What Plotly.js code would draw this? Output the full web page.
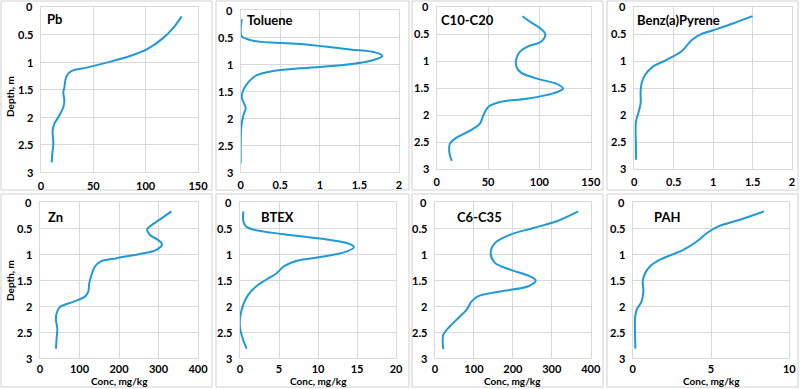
<!DOCTYPE html>
<html>
<head>
<meta charset="utf-8">
<script src="https://cdn.plot.ly/plotly-3.0.1.min.js"></script>
<style>html,body{margin:0;padding:0;background:#fff;}#chart{width:800px;height:389px;}</style>
</head>
<body>
<div id="chart"></div>
<script>
// ---- DATA ----
const pbDepth = [0.17,0.38,0.56,0.77,0.89,1.01,1.10,1.16,1.25,1.46,1.55,1.70,1.82,1.97,2.12,2.24,2.48,2.66,2.82];
const pbConc  = [134.4,126.4,116.9,101,85,62.7,43.6,29.3,24.5,22.3,21.3,22.3,21.3,17.5,12.7,11.1,11.8,10.8,10.2];

const tolDepth = [0.17,0.37,0.49,0.57,0.63,0.73,0.79,0.85,0.93,1.02,1.08,1.13,1.21,1.33,1.48,1.61,1.73,1.82,1.95,2.16,2.47,2.84];
const tolConc  = [0.013,0,0.013,0.16,0.75,1.38,1.71,1.79,1.67,1.29,0.75,0.41,0.2,0.1,0.034,0.013,0.042,0.063,0.034,0.008,0,0];

const c1020Depth = [0.17,0.29,0.41,0.50,0.64,0.73,0.83,0.95,1.11,1.22,1.34,1.42,1.51,1.60,1.70,1.76,1.85,2.01,2.16,2.29,2.42,2.53,2.69,2.85];
const c1020Conc  = [83.5,92.2,101.9,105.8,101.9,89,80.9,77.7,77.7,82.5,100.3,116.5,123,113.3,87.4,61.5,50.2,45.3,42.1,32.4,19.4,12.9,12.3,14.6];

const bapDepth = [0.17,0.30,0.43,0.51,0.61,0.70,0.82,0.98,1.10,1.26,1.41,1.57,1.78,1.97,2.12,2.34,2.59,2.83];
const bapConc  = [1.5,1.26,1.0,0.835,0.73,0.674,0.6,0.41,0.24,0.136,0.093,0.08,0.08,0.05,0.021,0.017,0.021,0.021];

const znDepth = [0.18,0.34,0.47,0.53,0.63,0.73,0.81,0.92,1.00,1.08,1.15,1.24,1.40,1.57,1.73,1.82,1.92,2.02,2.14,2.27,2.43,2.63,2.82];
const znConc  = [332.6,303,278,271,278,299,309,295,253,194,152,139,130.5,124.6,122,113.7,84,50.5,42,40.4,43.8,42,40.4];

const btexDepth = [0.18,0.37,0.47,0.53,0.62,0.72,0.81,0.87,0.95,1.05,1.13,1.24,1.37,1.49,1.62,1.78,1.97,2.23,2.42,2.62,2.82];
const btexConc  = [0.43,0.43,0.77,1.7,5.6,11.1,14.1,14.6,13.7,10.7,7.3,5.6,4.7,3.4,2.1,1.07,0.43,0,0,0.34,0.85];

const c635Depth = [0.18,0.37,0.50,0.63,0.79,0.98,1.17,1.30,1.43,1.51,1.62,1.72,1.81,1.91,2.07,2.23,2.39,2.55,2.68,2.83];
const c635Conc  = [368,312.6,252.7,192.7,154,143,154,192.7,244,258.7,240,167,111,94,81.4,60,38.5,21.4,19.7,21.4];

const pahDepth = [0.18,0.34,0.47,0.60,0.76,0.92,1.11,1.24,1.37,1.53,1.72,1.91,2.07,2.23,2.55,2.82];
const pahConc  = [8.38,6.85,5.47,4.72,4.09,3.23,1.74,1.1,0.79,0.64,0.68,0.57,0.255,0.15,0.15,0.17];

const panelNames = ["Pb","Toluene","C10-C20","Benz(a)Pyrene","Zn","BTEX","C6-C35","PAH"];
const depthSets  = [pbDepth,tolDepth,c1020Depth,bapDepth,znDepth,btexDepth,c635Depth,pahDepth];
const concSets   = [pbConc,tolConc,c1020Conc,bapConc,znConc,btexConc,c635Conc,pahConc];
const xTickVals  = [[0,50,100,150],[0,0.5,1,1.5,2],[0,50,100,150],[0,0.5,1,1.5,2],
                    [0,100,200,300,400],[0,5,10,15,20],[0,100,200,300,400],[0,5,10]];
const depthTicks = [0,0.5,1,1.5,2,2.5,3];
const yTitle = "Depth, m";
const xTitle = "Conc, mg/kg";

// ---- LAYOUT GEOMETRY (pixels) ----
const W = 800, H = 389;
const plotBoxes = [ // [left, right, top, bottom]
  [41,198,7,172.3],[240.7,399,10,172],[436.7,590.7,7,169],[634.3,792,7,169],
  [40,198,202,358],[240,396,202,358],[435,590.7,202,358],[632.7,789.3,202,358]
];
const panelBoxes = [ // [left,right,top,bottom]
  [1,212,1,190],[216,409,1,190],[412,603,1,190],[607,798,1,190],
  [1,212,194,387],[216,409,194,387],[412,603,194,387],[607,798,194,387]
];
const titlePos = [[45,19],[245,20],[439,20],[635,20],[46,217],[259,217],[455,217],[652,217]];

const px = x => x / W;
const py = y => 1 - y / H;

const lineColor = '#1f9ad6';
const gridColor = '#d9d9d9';
const fontFam = 'Lato, "Open Sans", Arial, sans-serif';
const tickFont = {family: fontFam, size: 11, color: '#000', weight: 'bold'};

const traces = [];
const layout = {
  width: W, height: H,
  margin: {l:0,r:0,t:0,b:0},
  showlegend: false,
  shapes: [], annotations: [],
  font: {family: fontFam, color: '#000'}
};

for (let i = 0; i < 8; i++) {
  const n = i + 1;
  const xa = n === 1 ? 'x' : 'x' + n;
  const ya = n === 1 ? 'y' : 'y' + n;
  traces.push({
    x: concSets[i], y: depthSets[i], xaxis: xa, yaxis: ya,
    type: 'scatter', mode: 'lines',
    line: {color: lineColor, width: 2, shape: 'spline', smoothing: 1}
  });
  const b = plotBoxes[i];
  const tv = xTickVals[i];
  const axCommon = {
    showgrid: true, gridcolor: gridColor,
    zeroline: false, showline: true, linecolor: gridColor, mirror: true,
    ticks: 'outside', tickcolor: 'rgba(0,0,0,0)',
    tickfont: tickFont, ticklabeloverflow: 'allow'
  };
  layout['xaxis' + (n === 1 ? '' : n)] = Object.assign({}, axCommon, {
    domain: [px(b[0]), px(b[1])], anchor: ya,
    range: [tv[0], tv[tv.length-1]], tickvals: tv,
    ticklen: i >= 4 ? 1 : 3
  });
  layout['yaxis' + (n === 1 ? '' : n)] = Object.assign({}, axCommon, {
    domain: [py(b[3]), py(b[2])], anchor: xa,
    range: [3, 0], tickvals: depthTicks,
    ticklen: 6, showticklabels: false
  });
  // depth tick labels placed on the y axis scale
  depthTicks.forEach(d => {
    layout.annotations.push({
      text: String(d), xref: 'paper', yref: ya,
      x: px(b[0] - 6), y: d,
      xanchor: 'right', yanchor: 'middle', showarrow: false,
      font: tickFont
    });
  });
  const pb = panelBoxes[i];
  layout.shapes.push({
    type: 'rect', xref: 'paper', yref: 'paper',
    x0: px(pb[0]), x1: px(pb[1]), y0: py(pb[3]), y1: py(pb[2]),
    line: {color: '#d0d0d0', width: 1}, layer: 'below'
  });
  layout.annotations.push({
    text: panelNames[i], xref: 'paper', yref: 'paper',
    x: px(titlePos[i][0]), y: py(titlePos[i][1]),
    xanchor: 'left', yanchor: 'middle', showarrow: false,
    font: {size: 13, weight: 'bold'}
  });
  if (i === 0 || i === 4) {
    layout.annotations.push({
      text: yTitle, xref: 'paper', yref: 'paper',
      x: px(10), y: py(i === 0 ? 97 : 281), textangle: -90,
      xanchor: 'center', yanchor: 'middle', showarrow: false,
      font: {size: 10, weight: 'bold'}
    });
  }
  if (i >= 4) {
    layout.annotations.push({
      text: xTitle, xref: 'paper', yref: 'paper',
      x: px((b[0] + b[1]) / 2), y: py(381),
      xanchor: 'center', yanchor: 'middle', showarrow: false,
      font: {size: 10, weight: 'bold'}
    });
  }
}

Plotly.newPlot('chart', traces, layout, {staticPlot: true, displayModeBar: false});
</script>
</body>
</html>
